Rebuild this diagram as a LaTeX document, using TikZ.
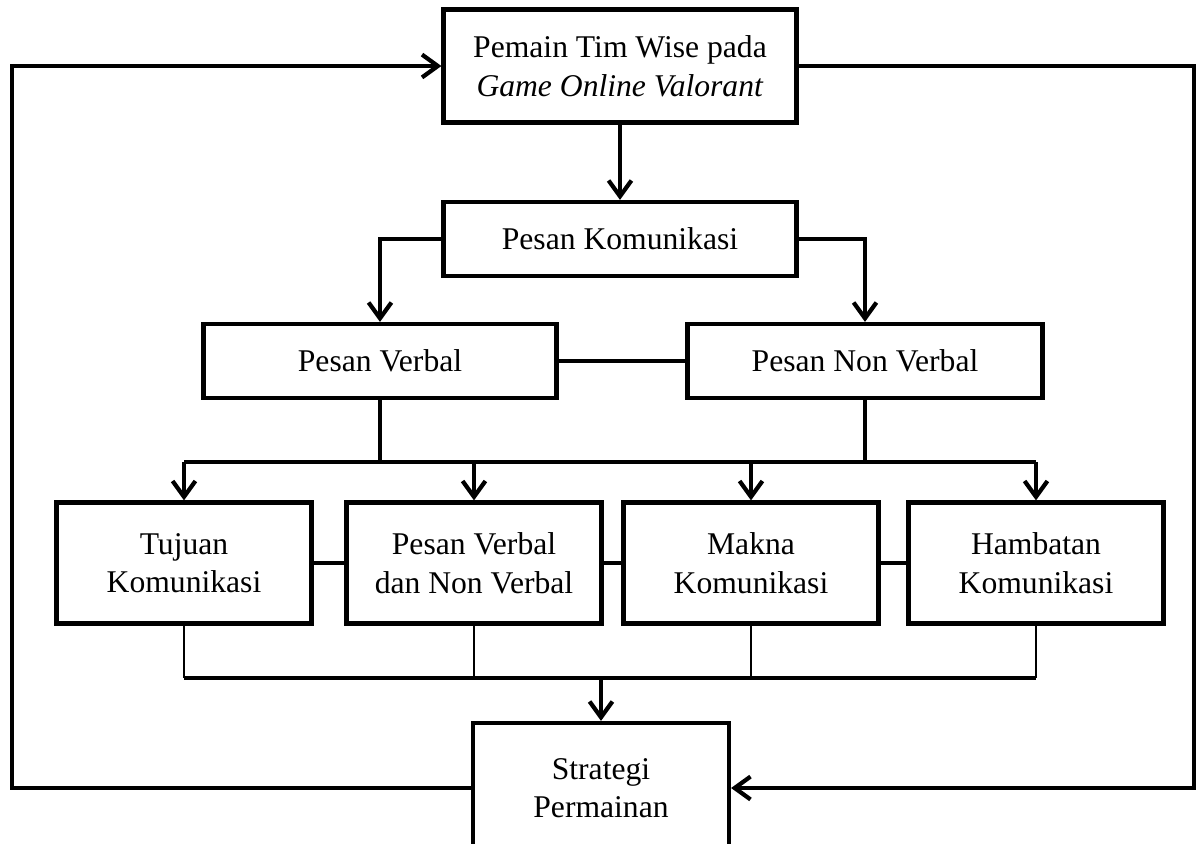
\documentclass[tikz,border=0pt]{standalone}
\usepackage{fontspec}
\setmainfont{Liberation Serif}
\usetikzlibrary{arrows.meta}
\begin{document}
\begin{tikzpicture}[x=0.02cm,y=-0.02cm,
        box/.style={draw,line width=2.4pt,align=center,inner sep=0pt,font=\fontsize{18}{22}\selectfont},
        wire/.style={line width=2.4pt},
        thinwire/.style={line width=1.6pt},
        arr/.style={line width=2.4pt,-{Straight Barb[length=9pt,width=13pt]}}]
    \useasboundingbox (0,0) rectangle (1197,843);
    \clip (0,0) rectangle (1197,843);

    \node[box,minimum width=7.06cm,minimum height=2.26cm] (pemain) at (620,66) {Pemain Tim Wise pada\\\textit{Game Online Valorant}};
    \node[box,minimum width=7.06cm,minimum height=1.48cm] (komunikasi) at (620,239) {Pesan Komunikasi};
    \node[box,minimum width=7.06cm,minimum height=1.48cm] (verbal) at (380,361) {Pesan Verbal};
    \node[box,minimum width=7.1cm,minimum height=1.48cm] (nonverbal) at (865,361) {Pesan Non Verbal};

    \node[box,minimum width=5.1cm,minimum height=2.42cm] (tujuan) at (184,563) {Tujuan\\Komunikasi};
    \node[box,minimum width=5.1cm,minimum height=2.42cm] (gabungan) at (474,563) {Pesan Verbal\\dan Non Verbal};
    \node[box,minimum width=5.1cm,minimum height=2.42cm] (makna) at (751,563) {Makna\\Komunikasi};
    \node[box,minimum width=5.1cm,minimum height=2.42cm] (hambatan) at (1036,563) {Hambatan\\Komunikasi};

    \node[box,minimum width=5.12cm,minimum height=2.6cm] (strategi) at (601,788) {Strategi\\Permainan};

    \coordinate (kiri) at (12,0);
    \coordinate (kanan) at (1194,0);
    \coordinate (atas) at (0,462);
    \coordinate (bawah) at (0,678);

    % alur utama
    \draw[arr] (pemain) -- (komunikasi);
    \draw[arr] (komunikasi.west) -| (verbal.north);
    \draw[arr] (komunikasi.east) -| (nonverbal.north);
    \draw[wire] (verbal.east) -- (nonverbal.west);

    % cabang ke empat kotak
    \draw[wire] (verbal.south) -- (verbal.south |- atas);
    \draw[wire] (nonverbal.south) -- (nonverbal.south |- atas);
    \draw[wire] (tujuan.north |- atas) -- (hambatan.north |- atas);
    \foreach \n in {tujuan,gabungan,makna,hambatan}
        \draw[arr] (\n.north |- atas) -- (\n.north);
    \draw[wire] (tujuan.east) -- (gabungan.west);
    \draw[wire] (gabungan.east) -- (makna.west);
    \draw[wire] (makna.east) -- (hambatan.west);

    % gabung ke strategi
    \foreach \n in {tujuan,gabungan,makna,hambatan}
        \draw[thinwire] (\n.south) -- (\n.south |- bawah);
    \draw[wire] (tujuan.south |- bawah) -- (hambatan.south |- bawah);
    \draw[arr] (strategi.north |- bawah) -- (strategi.north);

    % umpan balik
    \draw[arr] (strategi.west) -| (kiri |- pemain.west) -- (pemain.west);
    \draw[arr] (pemain.east) -| (kanan |- strategi.east) -- (strategi.east);
\end{tikzpicture}
\end{document}
